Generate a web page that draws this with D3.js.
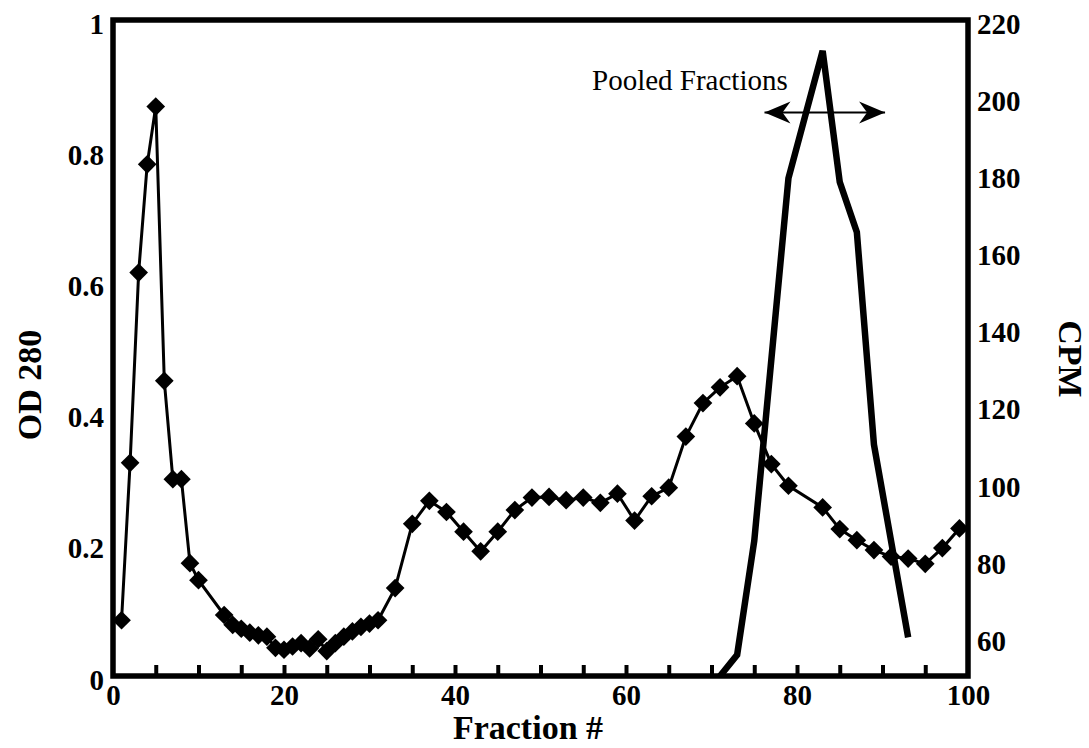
<!DOCTYPE html>
<html>
<head>
<meta charset="utf-8">
<script src="https://cdn.jsdelivr.net/npm/d3@7"></script>
<style>
body { margin: 0; background: #fff; }
.tick text { font-family: "Liberation Serif", serif; font-weight: bold; font-size: 29px; fill: #000; }
.title { font-family: "Liberation Serif", serif; font-weight: bold; font-size: 34px; }
</style>
</head>
<body>
<div id="chart-area"></div>
<script>
// OD 280 readings (diamonds)
var odFraction = [1,2,3,4,5,6,7,8,9,10,13,14,15,16,17,18,19,20,21,22,23,24,25,26,27,28,29,30,31,
	33,35,37,39,41,43,45,47,49,51,53,55,57,59,61,63,65,67,69,71,73,75,77,79,83,85,87,89,91,93,95,97,99];
var odValue = [0.085,0.325,0.615,0.78,0.868,0.45,0.30,0.30,0.172,0.146,0.093,0.078,0.072,0.066,0.062,0.06,0.043,0.04,0.045,0.05,0.042,0.056,0.038,0.05,0.06,0.068,0.075,0.08,0.085,
	0.134,0.232,0.267,0.25,0.22,0.19,0.22,0.253,0.272,0.273,0.268,0.272,0.264,0.278,0.237,0.274,0.287,0.365,0.416,0.44,0.457,0.385,0.323,0.29,0.257,0.224,0.207,0.192,0.182,0.179,0.171,0.195,0.225];

// CPM readings (thick line)
var cpmFraction = [71,73,75,79,83,85,87,89,93];
var cpmValue = [50,55.5,85,179,212,178,165,110,60];

var xTicks = [0,20,40,60,80,100];
var xMinor = d3.range(5,100,5);
var odTicks = [0,0.2,0.4,0.6,0.8,1];
var cpmTicks = [60,80,100,120,140,160,180,200,220];
var pooled = [76.2,90.3];
var pooledLevel = 196;

var width = 1089, height = 748;
var margin = {left: 113, right: 968, top: 20, bottom: 676};

var svg = d3.select("#chart-area").append("svg")
	.attr("width", width)
	.attr("height", height);

var x = d3.scaleLinear().domain([0,100]).range([margin.left,margin.right]);
var yL = d3.scaleLinear().domain([0,1]).range([margin.bottom,margin.top]);
var yR = d3.scaleLinear().domain([50,220]).range([margin.bottom,margin.top]);

var defs = svg.append("defs");
defs.append("marker")
	.attr("id","head")
	.attr("viewBox","-27 -12 29 24")
	.attr("markerWidth",29).attr("markerHeight",24)
	.attr("markerUnits","userSpaceOnUse")
	.attr("refX",0).attr("refY",0)
	.attr("orient","auto-start-reverse")
	.append("path")
	.attr("d","M0,0L-26,-11L-18,0L-26,11Z")
	.attr("fill","#000");

// minor ticks inside the bottom frame
svg.append("g")
	.attr("transform","translate(0,"+margin.bottom+")")
	.call(d3.axisBottom(x).tickValues(xMinor).tickSize(-11).tickFormat(""))
	.call(g => g.select(".domain").remove())
	.selectAll("line").attr("stroke","#000").attr("stroke-width",4);

svg.append("g")
	.attr("transform","translate(0,"+margin.bottom+")")
	.call(d3.axisBottom(x).tickValues(xTicks).tickSize(0).tickPadding(8))
	.call(g => g.select(".domain").remove());

svg.append("g")
	.attr("transform","translate("+margin.left+",0)")
	.call(d3.axisLeft(yL).tickValues(odTicks).tickSize(0).tickPadding(9).tickFormat(d => String(d)))
	.call(g => g.select(".domain").remove())
	.selectAll("text").attr("dy","0.45em");

svg.append("g")
	.attr("transform","translate("+margin.right+",0)")
	.call(d3.axisRight(yR).tickValues(cpmTicks).tickSize(0).tickPadding(9))
	.call(g => g.select(".domain").remove())
	.selectAll("text").attr("dy","0.45em");

// frame
svg.append("rect")
	.attr("x",margin.left).attr("y",margin.top)
	.attr("width",margin.right-margin.left).attr("height",margin.bottom-margin.top)
	.attr("fill","none").attr("stroke","#000").attr("stroke-width",5.5);

// OD line and diamonds
var od = odFraction.map((f,i)=>({f:f, v:odValue[i]}));
svg.append("path")
	.datum(od)
	.attr("fill","none").attr("stroke","#000").attr("stroke-width",3)
	.attr("d", d3.line().x(d=>x(d.f)).y(d=>yL(d.v)));

svg.selectAll(".dia").data(od).enter()
	.append("path")
	.attr("class","dia")
	.attr("d", d3.symbol(d3.symbolSquare, 175))
	.attr("transform", d=>"translate("+x(d.f)+","+yL(d.v)+") rotate(45)")
	.attr("fill","#000");

// CPM line
var cpm = cpmFraction.map((f,i)=>({f:f, v:cpmValue[i]}));
svg.append("path")
	.datum(cpm)
	.attr("fill","none").attr("stroke","#000").attr("stroke-width",6.5)
	.attr("stroke-linejoin","miter")
	.attr("d", d3.line().x(d=>x(d.f)).y(d=>yR(d.v)));

// pooled fractions arrow
svg.append("line")
	.attr("x1",x(pooled[0])).attr("x2",x(pooled[1]))
	.attr("y1",yR(pooledLevel)).attr("y2",yR(pooledLevel))
	.attr("stroke","#000").attr("stroke-width",2)
	.attr("marker-start","url(#head)")
	.attr("marker-end","url(#head)");

svg.append("text")
	.attr("x",592).attr("y",90)
	.attr("font-family","Liberation Serif, serif")
	.attr("font-size","29px")
	.text("Pooled Fractions");

// axis titles
svg.append("text")
	.attr("class","title")
	.attr("x",528).attr("y",739)
	.attr("text-anchor","middle")
	.text("Fraction #");

svg.append("text")
	.attr("class","title")
	.attr("transform","translate(41,385) rotate(-90)")
	.attr("text-anchor","middle")
	.text("OD 280");

svg.append("text")
	.attr("class","title")
	.attr("transform","translate(1059,359) rotate(90)")
	.attr("text-anchor","middle")
	.text("CPM");
</script>
</body>
</html>
